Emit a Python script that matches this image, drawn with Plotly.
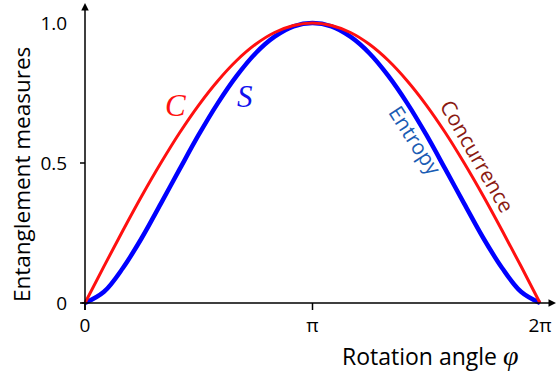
import math
import plotly.graph_objects as go

# rotation angle samples (in units of pi/12)
phi_steps = [0, 1, 2, 3, 4, 5, 6, 7, 8, 9, 10, 11, 12,
             13, 14, 15, 16, 17, 18, 19, 20, 21, 22, 23, 24]
concurrence = [0.0, 0.131, 0.259, 0.383, 0.500, 0.609, 0.707, 0.793, 0.866, 0.924, 0.966, 0.991, 1.0,
               0.991, 0.966, 0.924, 0.866, 0.793, 0.707, 0.609, 0.500, 0.383, 0.259, 0.131, 0.0]
entropy = [0.0, 0.040, 0.125, 0.233, 0.355, 0.479, 0.601, 0.713, 0.811, 0.892, 0.951, 0.988, 1.0,
           0.988, 0.951, 0.892, 0.811, 0.713, 0.601, 0.479, 0.355, 0.233, 0.125, 0.040, 0.0]
x_tick_vals = [0, math.pi, 2 * math.pi]
x_tick_text = ["0", "π", "2π"]
x_tick_marks = [0, math.pi]
y_tick_vals = [0, 0.5, 1.0]
y_tick_text = ["0", "0.5", "1.0"]
y_tick_marks = [0, 0.5]

phi = [k * math.pi / 12 for k in phi_steps]

SANS = "Open Sans"
SERIF = "Liberation Serif"

fig = go.Figure()
fig.add_trace(go.Scatter(x=phi, y=entropy, mode="lines", line=dict(color="#0000ff", width=4.5, shape="spline"),
                         showlegend=False, hoverinfo="skip"))
fig.add_trace(go.Scatter(x=phi, y=concurrence, mode="lines", line=dict(color="#ff1010", width=3, shape="spline"),
                         showlegend=False, hoverinfo="skip"))

XR = [-0.069, 6.504]
YR = [-0.025, 1.0714]
XPOS = 7 / 307
YPOS = 5 / 476

common = dict(showgrid=False, zeroline=False, showline=False, automargin=False, fixedrange=True)

fig.update_layout(
    width=556, height=374,
    margin=dict(l=80, r=0, t=3, b=64, autoexpand=False),
    paper_bgcolor="white", plot_bgcolor="white",
    xaxis=dict(range=XR, **common,
               tickvals=x_tick_vals, ticktext=x_tick_text,
               ticks="outside", ticklen=3, tickcolor="rgba(0,0,0,0)", ticklabelstandoff=2,
               tickfont=dict(family=SANS, size=19, color="black"),
               anchor="free", position=XPOS),
    yaxis=dict(range=YR, **common,
               tickvals=y_tick_vals, ticktext=y_tick_text,
               ticks="outside", ticklen=7, tickcolor="rgba(0,0,0,0)", ticklabelstandoff=7,
               tickfont=dict(family=SANS, size=19, color="black"),
               anchor="free", position=YPOS),
)

# tick marks (pixel-length lines at the data positions)
for xv in x_tick_marks:
    fig.add_shape(type="line", xref="x", yref="y", ysizemode="pixel", yanchor=0,
                  x0=xv, x1=xv, y0=0, y1=-8, line=dict(color="black", width=1.5), layer="above")
for yv in y_tick_marks:
    fig.add_shape(type="line", xref="x", yref="y", xsizemode="pixel", xanchor=0,
                  x0=0, x1=-8, y0=yv, y1=yv, line=dict(color="black", width=1.5), layer="above")

# axes with arrows
fig.add_annotation(x=0, y=1.0714, ax=0, ay=-0.03, xref="x", yref="y", axref="x", ayref="y",
                   text="", showarrow=True, arrowhead=2, arrowsize=1, arrowwidth=1.5, arrowcolor="black")
fig.add_annotation(x=6.504, y=0, ax=-0.069, ay=0, xref="x", yref="y", axref="x", ayref="y",
                   text="", showarrow=True, arrowhead=2, arrowsize=1, arrowwidth=1.5, arrowcolor="black")

# curve labels
fig.add_annotation(x=1.243, y=0.707, xref="x", yref="y", text="<i>C</i>", showarrow=False,
                   font=dict(family=SERIF, size=31, color="#ff1010"))
fig.add_annotation(x=2.209, y=0.736, xref="x", yref="y", text="<i>S</i>", showarrow=False,
                   font=dict(family=SERIF, size=31, color="#1010ee"))
fig.add_annotation(x=4.56, y=0.582, xref="x", yref="y", text="Entropy", showarrow=False, textangle=57,
                   font=dict(family=SANS, size=21, color="#1a5cb4"))
fig.add_annotation(x=5.42, y=0.525, xref="x", yref="y", text="Concurrence", showarrow=False, textangle=60,
                   font=dict(family=SANS, size=21, color="#8a1a12"))

# axis titles
fig.add_annotation(x=(521 - 80) / 476, y=(310 - 356) / 307, xref="paper", yref="paper",
                   xanchor="right", yanchor="middle",
                   text="Rotation angle <span style='font-family:Liberation Serif;font-size:28px'><i>φ</i></span>",
                   showarrow=False, font=dict(family=SANS, size=23, color="black"))
fig.add_annotation(x=(21 - 80) / 476, y=(310 - 175) / 307, xref="paper", yref="paper",
                   xanchor="center", yanchor="middle", textangle=-90,
                   text="Entanglement measures", showarrow=False, font=dict(family=SANS, size=22.5, color="black"))

fig.write_html("out.html", post_script="document.body.style.margin='0';",
               config={"displayModeBar": False, "staticPlot": True})
